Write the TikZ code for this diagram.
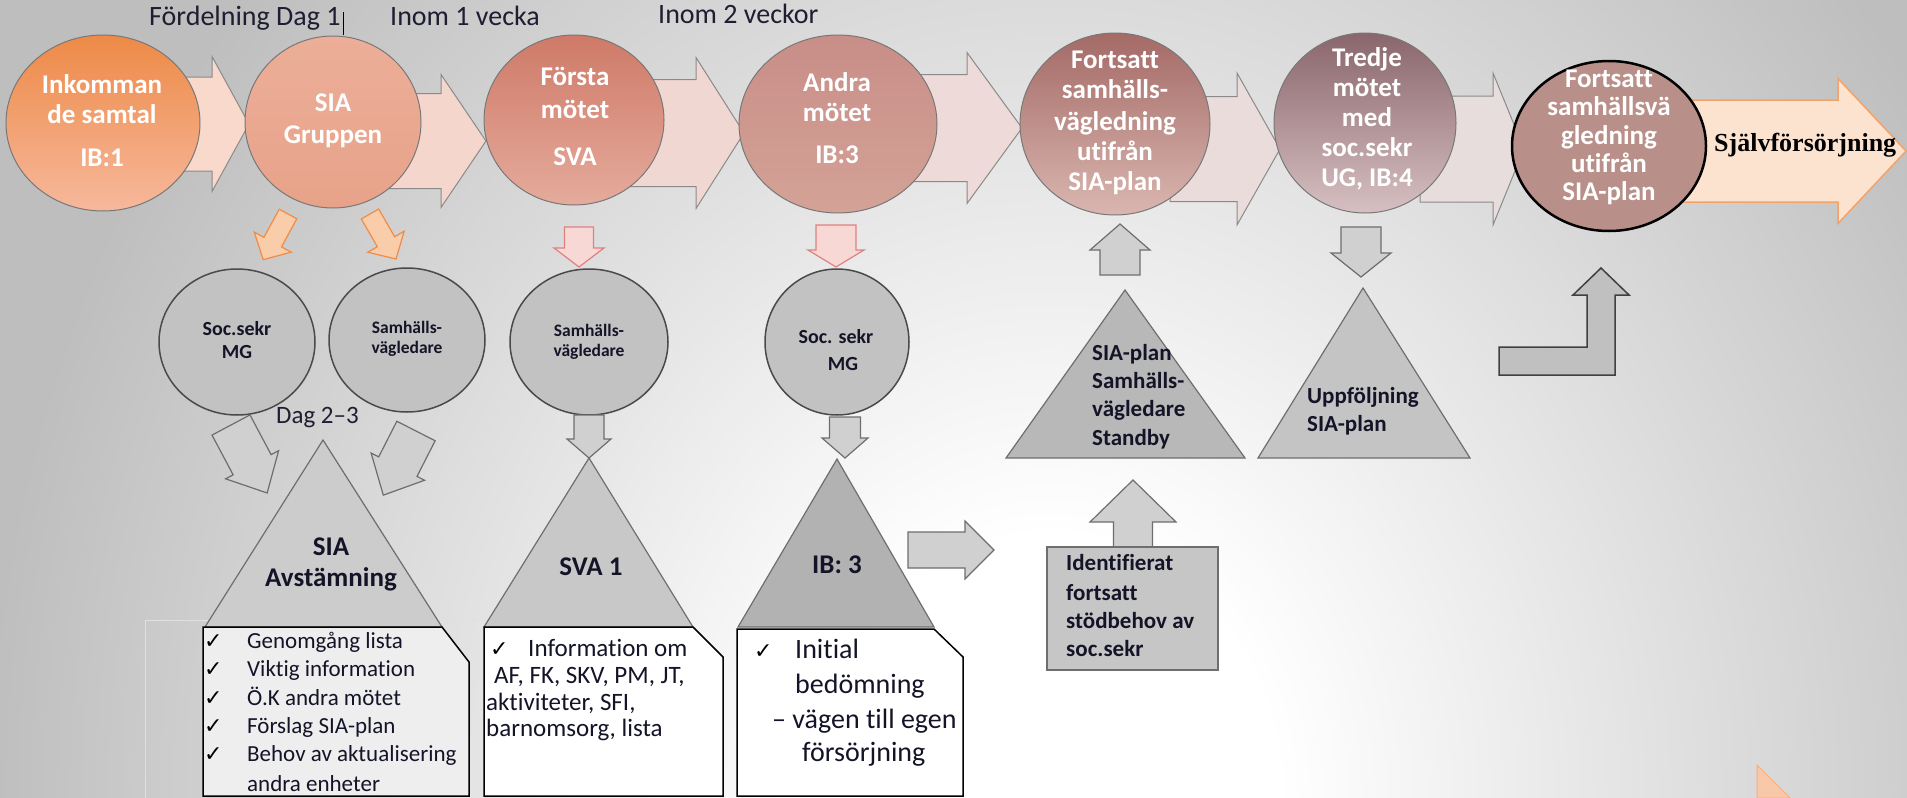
\documentclass[tikz,border=0pt]{standalone}
\usepackage{fontspec}
\setmainfont{Carlito}[Ligatures={TeX,NoCommon}]
\newfontfamily\serifbold{Liberation Serif}
\newfontfamily\symfont{DejaVu Sans}
\usetikzlibrary{shapes.geometric}
\definecolor{bggray}{RGB}{190,190,190}
\pgfdeclareradialshading{bgshade}{\pgfpoint{0bp}{0bp}}{color(0bp)=(white); color(3bp)=(white); color(14bp)=(bggray); color(50bp)=(bggray)}
\definecolor{labc}{RGB}{30,30,50}
\definecolor{darkt}{RGB}{20,20,40}
\definecolor{circb}{RGB}{120,120,120}
\definecolor{arb}{RGB}{138,138,138}
\definecolor{aone}{RGB}{249,217,203}
\definecolor{atwo}{RGB}{245,214,205}
\definecolor{athree}{RGB}{241,215,210}
\definecolor{afour}{RGB}{238,218,216}
\definecolor{afive}{RGB}{235,220,220}
\definecolor{asix}{RGB}{232,221,221}
\definecolor{bigfill}{RGB}{252,227,208}
\definecolor{bigdraw}{RGB}{242,163,106}
\definecolor{grayfill}{RGB}{208,208,208}
\definecolor{graydraw}{RGB}{110,110,110}
\definecolor{orfill}{RGB}{249,204,170}
\definecolor{ordraw}{RGB}{240,140,70}
\definecolor{pkfill}{RGB}{248,216,212}
\definecolor{pkdraw}{RGB}{224,128,128}
\definecolor{lowfill}{RGB}{194,194,194}
\definecolor{lowdraw}{RGB}{74,74,74}
\definecolor{cAt}{RGB}{237,138,71}\definecolor{cAb}{RGB}{247,184,156}
\definecolor{cBt}{RGB}{236,174,152}\definecolor{cBb}{RGB}{232,162,138}
\definecolor{cCt}{RGB}{207,122,104}\definecolor{cCb}{RGB}{229,171,156}
\definecolor{cDt}{RGB}{200,142,136}\definecolor{cDm}{RGB}{217,174,166}\definecolor{cDb}{RGB}{212,162,150}
\definecolor{cEt}{RGB}{164,106,102}\definecolor{cEb}{RGB}{218,182,176}
\definecolor{cFt}{RGB}{138,102,108}\definecolor{cFb}{RGB}{214,192,194}
\definecolor{cG}{RGB}{185,143,137}
\newcommand{\blockarrow}[8]{%
  \begin{scope}[shift={(#1,#2)}, rotate=#3]
    \filldraw[#8] (0,-#5/2) -- (#4-#7,-#5/2) -- (#4-#7,-#6/2) -- (#4,0) -- (#4-#7,#6/2) -- (#4-#7,#5/2) -- (0,#5/2) -- cycle;
  \end{scope}}
\tikzset{
  topc/.style={ellipse, draw=circb, line width=1pt, inner sep=0pt},
  lowc/.style={ellipse, fill=lowfill, draw=lowdraw, line width=1.5pt, inner sep=0pt},
  tarrow/.style={draw=arb, line width=1pt},
  garrow/.style={fill=grayfill, draw=graydraw, line width=1.2pt},
  oarrow/.style={fill=orfill, draw=ordraw, line width=1.2pt},
  parrow/.style={fill=pkfill, draw=pkdraw, line width=1.2pt},
  tri/.style={draw=graydraw, line width=1.2pt},
  txtbase/.style={inner sep=0pt, text height=0.64em, text depth=0pt},
  wt/.style={txtbase, text=white, font=\bfseries\fontsize{27}{30}\selectfont},
  lab/.style={txtbase, text=labc, font=\fontsize{28}{30}\selectfont, anchor=west},
  ct/.style={txtbase, text=darkt, font=\bfseries\fontsize{20}{22}\selectfont},
  cts/.style={txtbase, text=darkt, font=\bfseries\fontsize{17.5}{20}\selectfont},
  tt/.style={txtbase, text=darkt, font=\bfseries\fontsize{27}{30}\selectfont},
  tm/.style={txtbase, text=darkt, font=\bfseries\fontsize{23}{26}\selectfont, anchor=west},
  ck/.style={txtbase, text=darkt, font=\fontsize{23}{26}\selectfont, anchor=west},
  ckb/.style={txtbase, text=darkt, font=\fontsize{25}{27}\selectfont, anchor=west},
  ckc/.style={txtbase, text=darkt, font=\fontsize{28}{30}\selectfont, anchor=west},
  chk/.style={txtbase, text=black, font=\symfont\fontsize{22}{24}\selectfont, anchor=west},
}
\begin{document}
\begin{tikzpicture}[x=1pt,y=-1pt]
\useasboundingbox (0,0) rectangle (1907,798);
\begin{scope}
  \clip (0,0) rectangle (1907,798);
  \shade[shading=bgshade] (-850,-1400) rectangle (2950,3000);
\end{scope}
% faint frame
\draw[black!12, line width=1pt] (145,798) -- (145,620) -- (520,620);
% top labels
\node[lab] (l1) at (149,22) {Fördelning Dag 1};
\draw[black, line width=1pt] (343,12) -- (343,35);
\node[lab] (l2) at (390,22) {Inom 1 vecka};
\node[lab] (l3) at (658,20) {Inom 2 veckor};
% top arrows
\blockarrow{150}{124}{0}{99}{94}{135}{37}{tarrow, fill=aone}
\blockarrow{380}{141}{0}{106}{95}{133}{45}{tarrow, fill=atwo}
\blockarrow{620}{133}{0}{124}{107}{151}{48}{tarrow, fill=athree}
\blockarrow{900}{128}{0}{122}{107}{151}{55}{tarrow, fill=afour}
\blockarrow{1170}{149}{0}{110}{105}{152}{43}{tarrow, fill=afive}
\blockarrow{1420}{149}{0}{104}{106}{152}{31}{tarrow, fill=asix}
\blockarrow{1660}{151}{0}{246}{102}{145}{68}{draw=bigdraw, fill=bigfill, line width=1.5pt}
% top circles
\node[topc, minimum width=194pt, minimum height=176pt, top color=cAt, bottom color=cAb] (c1) at (103,123) {};
\node[topc, minimum width=176pt, minimum height=172pt, top color=cBt, bottom color=cBb] (c2) at (333,122) {};
\node[topc, minimum width=180pt, minimum height=170pt, top color=cCt, bottom color=cCb] (c3) at (574,120) {};
\node[topc, minimum width=198pt, minimum height=178pt, top color=cDt, middle color=cDm, bottom color=cDb] (c4) at (838,124) {};
\node[topc, minimum width=190pt, minimum height=182pt, top color=cEt, bottom color=cEb] (c5) at (1115,124) {};
\node[topc, minimum width=182pt, minimum height=180pt, top color=cFt, bottom color=cFb] (c6) at (1365,123) {};
\node[ellipse, draw=black, line width=2.5pt, fill=cG, inner sep=0pt, minimum width=194pt, minimum height=170pt] (c7) at (1609,146) {};
% top texts
\node[wt] (t11) at (102,90) {Inkomman};
\node[wt] (t12) at (102,120) {de samtal};
\node[wt] (t13) at (102,163) {IB:1};
\node[wt] (t21) at (333,108) {SIA};
\node[wt] (t22) at (333,140) {Gruppen};
\node[wt] (t31) at (575,82) {Första};
\node[wt] (t32) at (575,115) {mötet};
\node[wt] (t33) at (575,162) {SVA};
\node[wt] (t41) at (837,88) {Andra};
\node[wt] (t42) at (837,118) {mötet};
\node[wt] (t43) at (837,160) {IB:3};
\node[wt] (t51) at (1115,65) {Fortsatt};
\node[wt] (t52) at (1115,95) {samhälls-};
\node[wt] (t53) at (1115,127) {vägledning};
\node[wt] (t54) at (1115,157) {utifrån};
\node[wt] (t55) at (1115,187) {SIA-plan};
\node[wt] (t61) at (1367,63) {Tredje};
\node[wt] (t62) at (1367,93) {mötet};
\node[wt] (t63) at (1367,123) {med};
\node[wt] (t64) at (1367,153) {soc.sekr};
\node[wt] (t65) at (1367,183) {UG, IB:4};
\node[wt] (t71) at (1609,84) {Fortsatt};
\node[wt] (t72) at (1609,112) {samhällsvä};
\node[wt] (t73) at (1609,141) {gledning};
\node[wt] (t74) at (1609,169) {utifrån};
\node[wt] (t75) at (1609,197) {SIA-plan};
\node[txtbase, anchor=west, text=black, font=\serifbold\bfseries\fontsize{26}{28}\selectfont] (self) at (1714,148) {Självförsörjning};
% small arrows from top row
\blockarrow{288}{214}{-118.5}{52}{20}{42}{20}{oarrow}
\blockarrow{370}{214}{-60}{52}{20}{42}{20}{oarrow}
\blockarrow{579}{227}{-90}{40}{29}{50}{19}{parrow}
\blockarrow{836}{225}{-90}{42}{40}{56}{17}{parrow}
\blockarrow{1120}{275}{90}{51}{40}{60}{26}{garrow}
\blockarrow{1361}{227}{-90}{50}{40}{60}{24}{garrow}
% lower circles
\node[lowc, minimum width=156pt, minimum height=146pt] (l1c) at (237,342) {};
\node[lowc, minimum width=156pt, minimum height=144pt] (l2c) at (407,340) {};
\node[lowc, minimum width=158pt, minimum height=146pt] (l3c) at (589,342) {};
\node[lowc, minimum width=144pt, minimum height=146pt] (l4c) at (837,342) {};
\node[ct] (s11) at (237,332) {Soc.sekr};
\node[ct] (s12) at (237,355) {MG};
\node[cts] (s21) at (407,330) {Samhälls-};
\node[cts] (s22) at (407,350) {vägledare};
\node[cts] (s31) at (589,333) {Samhälls-};
\node[cts] (s32) at (589,353) {vägledare};
\node[ct] (s41) at (836,340) {Soc. sekr};
\node[ct] (s42) at (843,367) {MG};
\node[txtbase, anchor=west, text=labc, font=\fontsize{25}{27}\selectfont] (dag) at (276,420) {Dag 2–3};
% gray arrows to triangles
\blockarrow{231}{425}{-62}{77}{43}{60}{32}{garrow}
\blockarrow{416}{431}{-117}{72}{43}{60}{32}{garrow}
\blockarrow{589}{415}{-90}{43}{30}{44}{19}{garrow}
\blockarrow{845}{417}{-90}{41}{31}{46}{20}{garrow}
% triangles
\filldraw[tri, fill={rgb,255:red,204;green,204;blue,204}] (323,440) -- (442,627) -- (205,627) -- cycle;
\filldraw[tri, fill={rgb,255:red,200;green,200;blue,200}] (589,458) -- (693,627) -- (484,627) -- cycle;
\filldraw[tri, fill={rgb,255:red,178;green,178;blue,178}] (837,459) -- (934,627) -- (738,627) -- cycle;
\filldraw[tri, fill={rgb,255:red,184;green,184;blue,184}] (1125,290) -- (1245,458) -- (1006,458) -- cycle;
\filldraw[tri, fill={rgb,255:red,196;green,196;blue,196}] (1363,288) -- (1470,458) -- (1258,458) -- cycle;
\node[tt] (tr11) at (331,552) {SIA};
\node[tt] (tr12) at (331,583) {Avstämning};
\node[tt] (tr2) at (591,572) {SVA 1};
\node[tt] (tr3) at (837,570) {IB: 3};
\node[tm] (tr41) at (1092,357) {SIA-plan};
\node[tm] (tr42) at (1092,385) {Samhälls-};
\node[tm] (tr43) at (1092,413) {vägledare};
\node[tm] (tr44) at (1092,442) {Standby};
\node[tm] (tr51) at (1307,400) {Uppföljning};
\node[tm] (tr52) at (1307,428) {SIA-plan};
% right arrow from IB:3, up arrow from box
\blockarrow{908}{550}{0}{86}{36}{58}{29}{garrow}
\blockarrow{1133}{547}{90}{67}{39}{86}{42}{garrow}
% identifierat box
\filldraw[fill={rgb,255:red,198;green,198;blue,198}, draw=graydraw, line width=1.2pt] (1047,547) rectangle (1218,670);
\node[tm] (id1) at (1066,567) {Identifierat};
\node[tm] (id2) at (1066,597) {fortsatt};
\node[tm] (id3) at (1066,625) {stödbehov av};
\node[tm] (id4) at (1066,653) {soc.sekr};
% bent arrow
\filldraw[fill={rgb,255:red,192;green,192;blue,192}, draw=black!75, line width=1.5pt] (1499,347) -- (1587,347) -- (1587,295) -- (1573,295) -- (1601,268) -- (1629,295) -- (1615,295) -- (1615,375) -- (1499,375) -- cycle;
% boxes below triangles
\filldraw[fill={rgb,255:red,238;green,238;blue,238}, draw=black, line width=1.5pt] (203,627) -- (442,627) -- (469,662) -- (469,796) -- (203,796) -- cycle;
\filldraw[fill=white, draw=black, line width=1.5pt] (484,627) -- (693,627) -- (723,657) -- (723,796) -- (484,796) -- cycle;
\filldraw[fill=white, draw=black, line width=1.5pt] (737,629) -- (934,629) -- (963,657) -- (963,796) -- (737,796) -- cycle;
% checklist 1
\node[chk] (k11) at (204,645) {✓};
\node[ck] (b11) at (247,645) {Genomgång lista};
\node[chk] (k12) at (204,673) {✓};
\node[ck] (b12) at (247,673) {Viktig information};
\node[chk] (k13) at (204,702) {✓};
\node[ck] (b13) at (247,702) {Ö.K andra mötet};
\node[chk] (k14) at (204,730) {✓};
\node[ck] (b14) at (247,730) {Förslag SIA-plan};
\node[chk] (k15) at (204,758) {✓};
\node[ck] (b15) at (247,758) {Behov av aktualisering};
\node[ck] (b16) at (247,788) {andra enheter};
% checklist 2
\node[chk] (k21) at (490,653) {✓};
\node[ckb] (b21) at (528,653) {Information om};
\node[ckb] (b22) at (494,680) {AF, FK, SKV, PM, JT,};
\node[ckb] (b23) at (486,707) {aktiviteter, SFI,};
\node[ckb] (b24) at (486,733) {barnomsorg, lista};
% checklist 3
\node[chk] (k31) at (754,655) {✓};
\node[ckc] (b31) at (795,655) {Initial};
\node[ckc] (b32) at (795,690) {bedömning};
\node[ckc] (b33) at (772,725) {– vägen till egen};
\node[ckc] (b34) at (802,758) {försörjning};
% partial arrow corner bottom right
\filldraw[fill={rgb,255:red,248;green,200;blue,168}, draw=ordraw!70, line width=1pt] (1757,765) -- (1790,798) -- (1757,798) -- cycle;
\end{tikzpicture}
\end{document}
